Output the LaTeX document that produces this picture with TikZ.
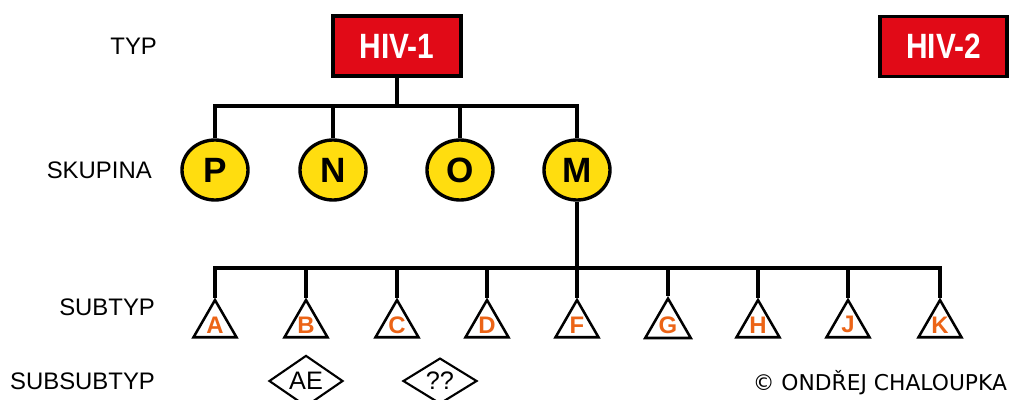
\documentclass[tikz,border=0pt]{standalone}
\usepackage{fontspec}
\setmainfont{Liberation Sans}
\newfontfamily\narrowfont[FakeStretch=0.85]{Liberation Sans}
\newfontfamily\signfont{DejaVu Sans}
\usetikzlibrary{shapes.geometric}
\definecolor{hivred}{HTML}{E10A17}
\definecolor{grpyellow}{HTML}{FFDD0F}
\definecolor{suborange}{HTML}{EC6416}

\begin{document}
\begin{tikzpicture}[x=1cm,y=1cm]
\tikzset{
  typebox/.style={rectangle,draw,fill=hivred,line width=2.4pt,minimum width=3.2cm,minimum height=1.5cm,inner sep=0pt,text=white,font=\narrowfont\bfseries\fontsize{25}{27}\selectfont},
  groupnode/.style={ellipse,draw,fill=grpyellow,line width=2.4pt,minimum width=1.65cm,minimum height=1.5cm,inner sep=0pt,font=\bfseries\fontsize{25}{27}\selectfont},
  subnode/.style={regular polygon,regular polygon sides=3,draw,line width=1.8pt,minimum size=1.24cm,inner sep=0pt,text=suborange,font=\bfseries\fontsize{17}{19}\selectfont},
  subsubnode/.style={diamond,draw,line width=1.5pt,minimum width=1.85cm,minimum height=1.05cm,inner sep=0pt,font=\fontsize{18}{20}\selectfont},
  rowlabel/.style={anchor=east,inner sep=0pt,font=\fontsize{17}{19}\selectfont},
  tree/.style={line width=2.4pt}
}
\useasboundingbox (0,0) rectangle (25.25,9.975);
% levels
\node[rowlabel] (l_typ) at (3.93,8.825) {TYP};
\node[rowlabel] (l_skupina) at (3.8,5.725) {SKUPINA};
\node[rowlabel] (l_subtyp) at (3.88,2.3) {SUBTYP};
\node[rowlabel] (l_subsubtyp) at (3.88,0.45) {SUBSUBTYP};
% types
\node[typebox] (n_hiv1) at (9.925,8.825) {HIV-1};
\node[typebox,minimum width=3.175cm] (n_hiv2) at (23.59,8.81) {HIV-2};
\coordinate (c_grp) at (9.925,7.325);
\coordinate (c_sub) at (14.425,3.275);
% groups
\node[groupnode] (n_P) at (5.375,5.725) {P};
\node[groupnode] (n_N) at (8.325,5.725) {N};
\node[groupnode] (n_O) at (11.5,5.725) {O};
\node[groupnode] (n_M) at (14.425,5.725) {M};
% subtypes
\node[subnode] (n_A) at (5.375,1.854) {A};
\node[subnode] (n_B) at (7.65,1.854) {B};
\node[subnode] (n_C) at (9.925,1.854) {C};
\node[subnode] (n_D) at (12.175,1.854) {D};
\node[subnode] (n_F) at (14.425,1.854) {F};
\node[subnode] (n_G) at (16.7,1.854) {G};
\node[subnode] (n_H) at (18.95,1.854) {H};
\node[subnode] (n_J) at (21.2,1.854) {J};
\node[subnode] (n_K) at (23.5,1.854) {K};
% subsubtypes
\node[subsubnode] (n_AE) at (7.65,0.45) {AE};
\node[subsubnode] (n_qq) at (11.0,0.45) {??};
\node[anchor=east,inner sep=0pt,font=\signfont\fontsize{15.5}{17}\selectfont] (n_sign) at (25.18,0.4) {© ONDŘEJ CHALOUPKA};
% tree
\draw[tree] (n_hiv1.south) -- (c_grp);
\draw[tree] (n_P.north) |- (c_grp) -| (n_M.north);
\draw[tree] (n_N.north) -- (n_N.north |- c_grp);
\draw[tree] (n_O.north) -- (n_O.north |- c_grp);
\draw[tree] (n_M.south) -- (c_sub);
\draw[tree] (n_A.corner 1) |- (c_sub) -| (n_K.corner 1);
\draw[tree] (n_B.corner 1) -- (n_B.corner 1 |- c_sub);
\draw[tree] (n_C.corner 1) -- (n_C.corner 1 |- c_sub);
\draw[tree] (n_D.corner 1) -- (n_D.corner 1 |- c_sub);
\draw[tree] (n_F.corner 1) -- (n_F.corner 1 |- c_sub);
\draw[tree] (n_G.corner 1) -- (n_G.corner 1 |- c_sub);
\draw[tree] (n_H.corner 1) -- (n_H.corner 1 |- c_sub);
\draw[tree] (n_J.corner 1) -- (n_J.corner 1 |- c_sub);
\end{tikzpicture}
\end{document}
